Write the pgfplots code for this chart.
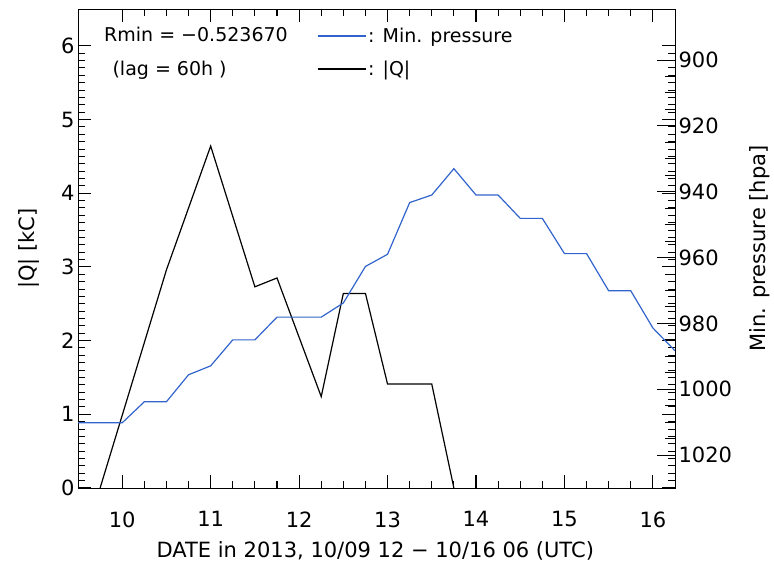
\documentclass[border=0pt]{standalone}
\usepackage{fontspec}
\setmainfont{DejaVu Sans}
\usepackage{pgfplots}
\pgfplotsset{compat=1.18}
\definecolor{presblue}{RGB}{50,100,205}

\pgfplotsset{
  idlstyle/.style={
    scale only axis, width=597pt, height=479pt,
    tick align=inside,
    tick label style={font=\fontsize{21}{21}\selectfont},
    /pgf/number format/assume math mode=true,
    /pgf/number format/1000 sep={},
  }
}

\begin{document}
\begin{tikzpicture}
% |Q| axis (left): data, tick labels, axis labels
\begin{axis}[idlstyle,
  xmin=9.5, xmax=16.25,
  ymin=0, ymax=6.5,
  xtick={10,...,16}, minor x tick num=3,
  ytick={0,...,6}, minor y tick num=9,
  ytick pos=left,
  major tick length=13pt, minor tick length=7pt,
  every tick/.append style={black, line width=1pt},
  xticklabel style={yshift=-20pt},
  xlabel={DATE in 2013, 10/09 12 − 10/16 06 (UTC)},
  ylabel={|Q| [kC]},
  xlabel style={at={(axis description cs:0.498,0)}, anchor=center, yshift=-63pt, font=\fontsize{21}{21}\selectfont},
  ylabel style={at={(axis description cs:-0.082,0.5)}, anchor=center, font=\fontsize{21}{21}\selectfont},
]
\addplot[black, line width=1.2pt] coordinates {
  (9.75,0) (10.5,2.96) (11,4.64) (11.5,2.73) (11.75,2.85) (12.25,1.24)
  (12.5,2.64) (12.75,2.64) (13,1.41) (13.5,1.41) (13.75,0)
};
\node[anchor=west, font=\fontsize{19}{19}\selectfont] at (rel axis cs:0.038,0.946) {Rmin = −0.523670};
\node[anchor=west, font=\fontsize{19}{19}\selectfont] at (rel axis cs:0.052,0.873) {(lag = 60h )};
\end{axis}

% mirrored copy that only draws the ticks: its upper x end is on the left
\begin{axis}[
  scale only axis, width=597pt, height=479pt,
  x dir=reverse, xmin=-16.25, xmax=-9.5,
  ymin=0, ymax=6.5,
  xtick={-16,...,-10}, minor x tick num=3,
  ytick={0,...,6}, minor y tick num=9,
  ytick pos=right,
  xticklabels={}, yticklabels={},
  tick align=inside,
  major tick length=13pt, minor tick length=7pt,
  every tick/.append style={black, line width=1pt},
]
\end{axis}

% pressure axis (right)
\begin{axis}[idlstyle,
  xmin=9.5, xmax=16.25,
  ymin=884.5, ymax=1030, y dir=reverse,
  hide x axis,
  ytick pos=right, yticklabel pos=right,
  ytick={900,920,...,1020}, minor y tick num=3,
  major tick length=18pt, minor tick length=10pt,
  every tick/.append style={black, line width=1pt},
  ylabel={Min. pressure [hpa]},
  ylabel style={at={(axis description cs:1.142,0.5)}, anchor=center, font=\fontsize{21}{21}\selectfont},
  legend style={draw=none, fill=none, at={(rel axis cs:0.40,0.965)}, anchor=north west,
    font=\fontsize{19}{19}\selectfont, row sep=13pt, inner sep=0pt, cells={anchor=west}},
  legend image code/.code={\draw[#1] (0pt,0pt) -- (48pt,0pt);},
]
\addplot[presblue, line width=1.2pt] coordinates {
  (9.5,1010.2) (9.75,1010.2) (10,1010.2) (10.25,1003.8) (10.5,1003.8)
  (10.75,995.6) (11,992.9) (11.25,985.0) (11.5,985.0) (11.75,978.1)
  (12,978.1) (12.25,978.1) (12.5,973.8) (12.75,962.7) (13,959.0)
  (13.25,943.3) (13.5,941.0) (13.75,933.0) (14,941.0) (14.25,941.0)
  (14.5,948.1) (14.75,948.1) (15,958.8) (15.25,958.8) (15.5,970.1)
  (15.75,970.1) (16,981.4) (16.25,988.3)
};
\addlegendentry{: Min. pressure}
\addlegendimage{black, line width=1.2pt}
\addlegendentry{: |Q|}
\end{axis}
\useasboundingbox (-78pt,-84pt) rectangle (696pt,488pt);
\end{tikzpicture}
\end{document}
